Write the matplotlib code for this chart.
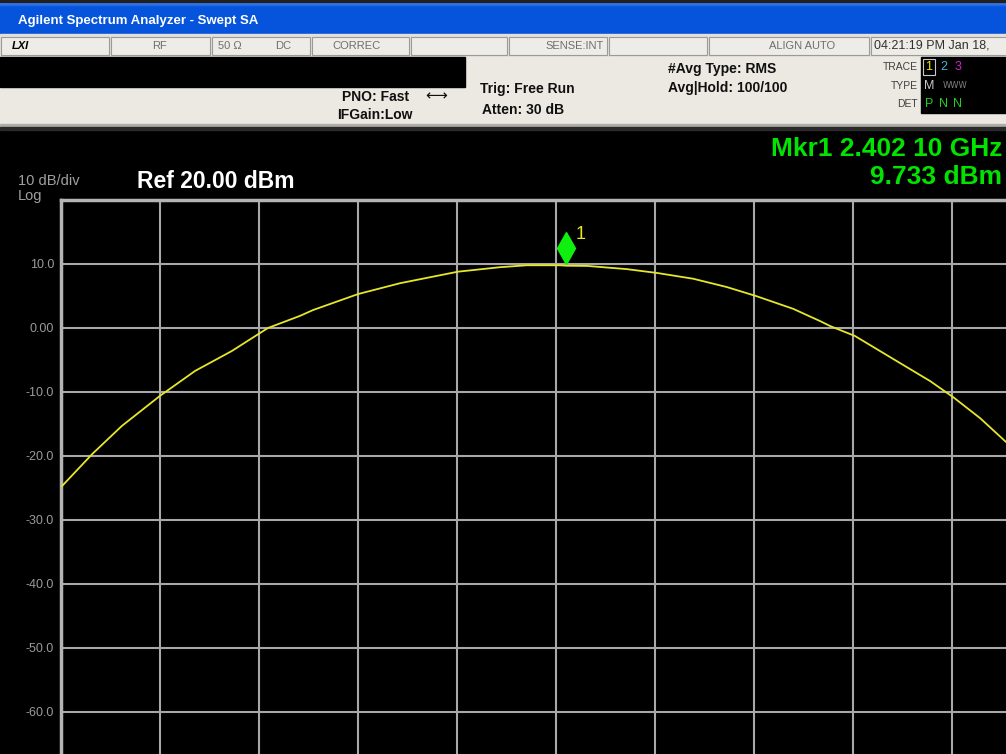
import matplotlib
matplotlib.use('Agg')
import matplotlib.pyplot as plt
import matplotlib.transforms as mtransforms
from matplotlib.patches import Rectangle
import numpy as np

# trace readings (MHz, dBm)
freq_mhz = [2300.2, 2306.3, 2312.3, 2320.0, 2327.1, 2334.5, 2341.8, 2348.3, 2350.9,
            2354.9, 2360.0, 2368.5, 2380.2, 2388.7, 2394.1, 2400.8, 2402.1, 2406.3,
            2414.3, 2420.4, 2427.7, 2434.5, 2440.4, 2447.9, 2453.3, 2455.4, 2460.4,
            2468.9, 2475.6, 2480.4, 2485.7, 2490.9]
level_dbm = [-24.7, -19.7, -15.3, -10.6, -6.7, -3.6, 0.0, 1.9, 2.8,
             3.9, 5.3, 7.0, 8.8, 9.5, 9.8, 9.8, 9.73, 9.7,
             9.2, 8.6, 7.7, 6.4, 5.0, 3.0, 1.1, 0.3, -1.25,
             -5.2, -8.3, -10.9, -14.1, -17.8]

mkr_freq = 2402.10
mkr_level = 9.733

start_mhz, stop_mhz = 2300, 2500
ref_level = 20.0
db_per_div = 10
y_levels = [20, 10, 0, -10, -20, -30, -40, -50, -60, -70, -80]
y_labels = ['', '10.0', '0.00', '-10.0', '-20.0', '-30.0', '-40.0', '-50.0', '-60.0', '', '']

W, H = 1006, 754
fig = plt.figure(figsize=(W / 100, H / 100), dpi=100, facecolor='black')

# ---- instrument frame, drawn in pixel coords ----
bg = fig.add_axes([0, 0, 1, 1])
bg.axis('off')
grad = np.linspace(0, 1, 32)
top = np.array([0.30, 0.55, 0.97])
mid = np.array([0.02, 0.33, 0.86])
cols = np.array([top * (1 - g / 0.15) + mid * (g / 0.15) if g < 0.15 else mid for g in grad])
bg.imshow(cols[:, None, :], extent=[0, W, 34, 2], aspect='auto', zorder=1)
bg.set_xlim(0, W)
bg.set_ylim(H, 0)

beige = '#ebe9e1'
bg.add_patch(Rectangle((0, 34), W, 23, color='#e2e0d8', zorder=1))
cells = [0, 110, 211, 311, 410, 508, 608, 708, 870, 1010]
for a, b in zip(cells[:-1], cells[1:]):
    bg.add_patch(Rectangle((a + 1, 37), b - a - 2, 18, facecolor='#eeece6',
                           edgecolor='#9a9a9a', lw=0.8, zorder=2))
bg.add_patch(Rectangle((0, 57), W, 70, color=beige, zorder=1))
bg.add_patch(Rectangle((0, 57), 465, 30, color='black', zorder=2))
bg.add_patch(Rectangle((0, 124), W, 3, color='#b0aea8', zorder=2))
bg.add_patch(Rectangle((0, 127), W, 3, color='#2a2a2a', zorder=2))
bg.add_patch(Rectangle((0, 0), W, 2, color='#202020', zorder=2))

sans = ['Liberation Sans', 'DejaVu Sans']
bg.text(18, 21, 'Agilent Spectrum Analyzer - Swept SA', color='white', fontsize=9.5,
        fontweight='bold', va='center', family=sans, zorder=3)
stat = dict(color='#6e6e6e', fontsize=8, va='center', family=sans, zorder=3)
bg.text(12, 46, 'LXI', color='black', fontsize=8, fontweight='bold', style='italic',
        va='center', family=sans, zorder=3)
bg.text(160, 46, 'RF', ha='center', **stat)
bg.text(218, 46, '50 Ω', **stat)
bg.text(275, 46, 'DC', **stat)
bg.text(332, 46, 'CORREC', **stat)
bg.text(604, 46, 'SENSE:INT', ha='right', **stat)
bg.text(835, 46, 'ALIGN AUTO', ha='right', **stat)
bg.text(874, 46, '04:21:19 PM Jan 18,', color='#303030', fontsize=9, va='center',
        family=sans, zorder=3)

hdr = dict(color='#101010', fontsize=10, fontweight='bold', va='center', family=sans, zorder=3)
bg.text(342, 97, 'PNO: Fast', **hdr)
bg.text(425, 96, '⟷', color='#101010', fontsize=11, va='center', zorder=3)
bg.text(337, 115, 'IFGain:Low', **hdr)
bg.text(480, 89, 'Trig: Free Run', **hdr)
bg.text(482, 110, 'Atten: 30 dB', **hdr)
bg.text(668, 69, '#Avg Type: RMS', **hdr)
bg.text(668, 88, 'Avg|Hold: 100/100', **hdr)

small = dict(color='#404040', fontsize=7.5, va='center', ha='right', family=sans, zorder=3)
bg.text(918, 67, 'TRACE', **small)
bg.text(918, 86, 'TYPE', **small)
bg.text(918, 104, 'DET', **small)
bg.add_patch(Rectangle((921, 57), 90, 56, color='black', zorder=2))
bg.add_patch(Rectangle((923, 59), 12, 16, facecolor='none', edgecolor='#c8c8c8', lw=0.8, zorder=3))
tr = dict(fontsize=9, va='center', ha='center', family=sans, zorder=4)
bg.text(929, 67, '1', color='#e8e800', **tr)
bg.text(944, 67, '2', color='#40b8d0', **tr)
bg.text(958, 67, '3', color='#d020d0', **tr)
bg.text(929, 86, 'M', color='#c8c8c8', **tr)
bg.text(955, 86, 'WWW', color='#808080', fontsize=6, va='center', ha='center', zorder=4)
bg.text(929, 104, 'P', color='#20d020', **tr)
bg.text(944, 104, 'N', color='#20d020', **tr)
bg.text(958, 104, 'N', color='#20d020', **tr)

# plot-area annotations
bg.text(18, 181, '10 dB/div', color='#a0a0a0', fontsize=10.5, va='center', family=sans, zorder=3)
bg.text(18, 196, 'Log', color='#a0a0a0', fontsize=10.5, va='center', family=sans, zorder=3)
bg.text(137, 182, 'Ref 20.00 dBm', color='white', fontsize=16.5, fontweight='bold',
        va='center', family=sans, zorder=3)
bg.text(1002, 149, 'Mkr1 2.402 10 GHz', color='#00e400', fontsize=19, fontweight='bold',
        va='center', ha='right', family=sans, zorder=3)
bg.text(1002, 177, '9.733 dBm', color='#00e400', fontsize=19, fontweight='bold',
        va='center', ha='right', family=sans, zorder=3)

# ---- trace axes (runs past the screenshot edges) ----
ax_l, ax_t, ax_w, ax_h = 61, 200, 990, 640
ax = fig.add_axes([ax_l / W, (H - ax_t - ax_h) / H, ax_w / W, ax_h / H], facecolor='black')
ax.set_xlim(start_mhz, stop_mhz)
ax.set_ylim(ref_level - 10 * db_per_div, ref_level)
ax.set_xticks(np.arange(start_mhz, stop_mhz + 1, 20))
ax.set_yticks(y_levels)
ax.set_yticklabels(y_labels, family=sans)
ax.tick_params(axis='x', length=0, labelbottom=False)
ax.tick_params(axis='y', length=0, pad=5, labelcolor='#9a9a9a', labelsize=9)
ax.grid(True, color='#a8a8a8', lw=1.5)
for s in ['right', 'bottom']:
    ax.spines[s].set_visible(False)
for s in ['left', 'top']:
    ax.spines[s].set_color('#b4b4b4')
    ax.spines[s].set_linewidth(2.5)

ax.plot(freq_mhz, level_dbm, color='#e6e62a', lw=1.3, zorder=3)

lift = mtransforms.offset_copy(ax.transData, fig=fig, x=0, y=12.5, units='points')
ax.plot([mkr_freq], [mkr_level], marker='d', ms=16, color='#10f010', mec='#10f010',
        transform=lift, zorder=4, clip_on=False)
txt_t = mtransforms.offset_copy(ax.transData, fig=fig, x=7, y=22.5, units='points')
ax.text(mkr_freq, mkr_level, '1', color='#e8e820', fontsize=13, transform=txt_t,
        va='center', family=sans, zorder=4)

fig.savefig('out.png', dpi=100, facecolor='black')
